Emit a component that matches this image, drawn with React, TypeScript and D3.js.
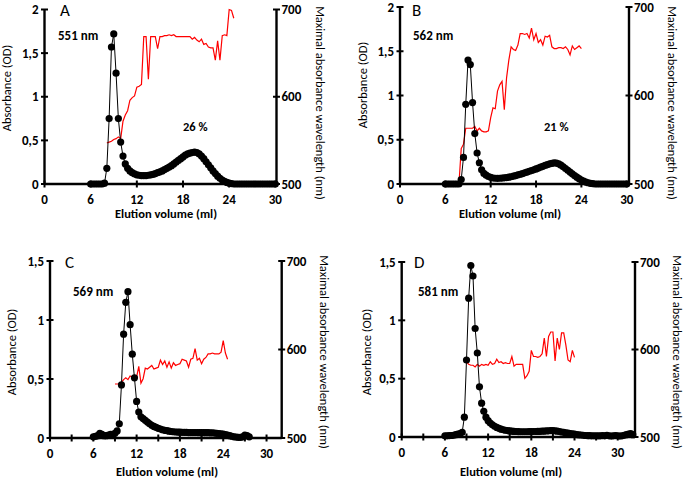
import React from "react";
import * as d3 from "d3";

// ---------- DATA ----------
const FRACTION_ML = 0.3; // volume of one collected fraction

// Absorbance (OD) per fraction, first fraction volume given separately
const absStartA = 6.0;
const absA = [0, 0, 0, 0, 0, 0, 0.01,
  0.18, 0.75, 1.57, 1.72, 1.27, 0.75, 0.48, 0.32, 0.23,
  0.18, 0.15, 0.13, 0.115, 0.105, 0.1, 0.095, 0.095, 0.097, 0.1,
  0.105, 0.11, 0.12, 0.13, 0.14, 0.15, 0.165, 0.18, 0.195, 0.21,
  0.23, 0.25, 0.27, 0.29, 0.31, 0.33, 0.345, 0.355, 0.36, 0.365,
  0.36, 0.345, 0.32, 0.29, 0.255, 0.22, 0.185, 0.15, 0.12, 0.09,
  0.065, 0.045, 0.03, 0.018, 0.01, 0.005,
  0, 0, 0, 0, 0, 0, 0, 0, 0, 0, 0, 0, 0, 0, 0, 0, 0, 0, 0];
const wlStartA = 8.1;
const wlA = [547, 548, 549, 551, 552, 554, 552, 572, 579, 584,
  596, 599, 601, 611, 612, 614, 669, 669, 620, 669,
  669, 669, 655, 669, 669, 670, 670, 671, 670, 671,
  669, 669, 669, 669, 669, 669, 669, 666, 668, 665,
  663, 666, 660, 661, 657, 656, 656, 642, 664, 642,
  670, 671, 670, 700, 699, 690];

const absStartB = 6.0;
const absB = [0, 0, 0, 0, 0, 0, 0,
  0.05, 0.3, 0.9, 1.4, 1.35, 0.92, 0.57, 0.35, 0.24,
  0.16, 0.12, 0.1, 0.085, 0.075, 0.068, 0.065, 0.064, 0.065, 0.067,
  0.07, 0.073, 0.077, 0.082, 0.088, 0.095, 0.102, 0.11, 0.118, 0.126,
  0.135, 0.143, 0.152, 0.16, 0.17, 0.18, 0.19, 0.2, 0.21, 0.22,
  0.228, 0.234, 0.238, 0.236, 0.228, 0.213, 0.195, 0.175, 0.155, 0.135,
  0.115, 0.095, 0.077, 0.06, 0.045, 0.033, 0.022, 0.014, 0.008, 0.004,
  0, 0, 0, 0, 0, 0, 0, 0, 0, 0, 0, 0, 0, 0, 0];
const wlStartB = 7.8;
const wlB = [500, 540, 545, 563, 563, 563, 563, 565, 560, 563,
  560, 559, 559, 560, 575, 586, 585, 605, 612, 616,
  584, 620, 640, 655, 652, 651, 657, 670, 670, 669,
  670, 665, 676, 663, 670, 660, 663, 657, 667, 666,
  668, 655, 653, 653, 654, 654, 653, 655, 652, 646,
  656, 652, 654, 656, 653];

const absStartC = 6.0;
const absC = [0.01, 0.015, 0.02, 0.04, 0.03, 0.02, 0.02, 0.025, 0.03, 0.03,
  0.04, 0.06, 0.12, 0.45, 0.88, 1.15, 1.24, 0.96, 0.71, 0.51,
  0.31, 0.22, 0.18, 0.165, 0.15, 0.135, 0.12, 0.108, 0.098, 0.09,
  0.082, 0.076, 0.07, 0.065, 0.062, 0.058, 0.055, 0.053, 0.051, 0.05,
  0.049, 0.048, 0.047, 0.047, 0.046, 0.046, 0.046, 0.046, 0.046, 0.045,
  0.045, 0.045, 0.045, 0.045, 0.044, 0.043, 0.042, 0.04, 0.038, 0.035,
  0.032, 0.028, 0.024, 0.02, 0.015, 0.01, 0.008, 0.006, 0.006, 0.01,
  0.025, 0.02, 0.01];
const wlStartC = 9.0;
const wlC = [561, 561, 561, 563, 566, 568, 566, 570, 569, 570,
  569, 581, 562, 567, 579, 578, 580, 582, 578, 579,
  580, 588, 583, 587, 580, 586, 579, 585, 582, 583,
  584, 589, 588, 587, 580, 589, 590, 601, 588, 590,
  584, 589, 591, 595, 595, 596, 595, 595, 595, 597,
  610, 596, 589];

const absStartD = 6.0;
const absD = [0.01, 0.01, 0.012, 0.013, 0.015, 0.02, 0.025, 0.03, 0.04, 0.17,
  0.66, 1.19, 1.47, 1.38, 0.93, 0.72, 0.43, 0.29, 0.22, 0.17,
  0.14, 0.12, 0.105, 0.092, 0.082, 0.074, 0.067, 0.062, 0.058, 0.055,
  0.052, 0.05, 0.048, 0.047, 0.046, 0.045, 0.045, 0.045, 0.045, 0.046,
  0.046, 0.047, 0.047, 0.048, 0.049, 0.05, 0.051, 0.052, 0.053, 0.054,
  0.054, 0.053, 0.05, 0.047, 0.043, 0.04, 0.036, 0.033, 0.03, 0.027,
  0.024, 0.021, 0.019, 0.017, 0.015, 0.013, 0.012, 0.011, 0.01, 0.01,
  0.01, 0.009, 0.01, 0.012, 0.01, 0.015, 0.01, 0.008, 0.01, 0.012,
  0.01, 0.008, 0.01, 0.015, 0.02, 0.025, 0.03, 0.02];
const wlStartD = 8.7;
const wlD = [586, 586, 583, 582, 582, 580, 583, 581, 583, 582,
  583, 582, 586, 583, 584, 589, 585, 586, 584, 585,
  584, 584, 592, 581, 583, 583, 583, 583, 567, 570,
  575, 599, 592, 592, 591, 592, 595, 613, 592, 615,
  620, 620, 587, 613, 600, 619, 619, 605, 588, 586,
  599, 591];

const panelLetters = ["A", "B", "C", "D"];
const peakLabels = ["551 nm", "562 nm", "569 nm", "581 nm"];
const percentLabels = ["26 %", "21 %", "", ""];
const xTickLabels = [0, 6, 12, 18, 24, 30];
const yTicksTop = [0, 0.5, 1, 1.5, 2];
const yTicksBottom = [0, 0.5, 1, 1.5];
const wlTicks = [500, 600, 700];
const xTitle = "Elution volume (ml)";
const yTitle = "Absorbance (OD)";
const y2Title = "Maximal absorbance wavelength (nm)";

// ---------- LAYOUT ----------
const layouts = [
  { left: 44.5, right: 276.5, top: 9.5, bottom: 184, xMax: 30.15, minor: 6, yMax: 2, yTicks: yTicksTop,
    letter: [60, 16], peak: [58, 40], pct: [183, 131], xT: [166, 218], yT: [7, 88], y2T: [320, 103] },
  { left: 400, right: 629, top: 7, bottom: 184, xMax: 30.3, minor: 6, yMax: 2, yTicks: yTicksTop,
    letter: [412, 16], peak: [413, 40], pct: [544, 131], xT: [510, 218], yT: [363, 85], y2T: [672, 103] },
  { left: 50, right: 281.7, top: 261, bottom: 438, xMax: 32.1, minor: 3, yMax: 1.5, yTicks: yTicksBottom,
    letter: [65, 268], peak: [73, 296], pct: [0, 0], xT: [167, 476], yT: [12, 352], y2T: [324, 352] },
  { left: 401.7, right: 635, top: 262, bottom: 437, xMax: 32.4, minor: 3, yMax: 1.5, yTicks: yTicksBottom,
    letter: [414, 268], peak: [418, 296], pct: [0, 0], xT: [511, 476], yT: [367, 352], y2T: [677, 352] },
];

const series = [
  { abs: absA, absStart: absStartA, wl: wlA, wlStart: wlStartA },
  { abs: absB, absStart: absStartB, wl: wlB, wlStart: wlStartB },
  { abs: absC, absStart: absStartC, wl: wlC, wlStart: wlStartC },
  { abs: absD, absStart: absStartD, wl: wlD, wlStart: wlStartD },
];

const FONT = "Carlito, Lato, 'Open Sans', sans-serif";
const fmt = (v: number) => String(v).replace(".", ",");

function Panel({ idx }: { idx: number }) {
  const L = layouts[idx];
  const S = series[idx];
  const x = d3.scaleLinear().domain([0, L.xMax]).range([L.left, L.right]);
  const y = d3.scaleLinear().domain([0, L.yMax]).range([L.bottom, L.top]);
  const y2 = d3.scaleLinear().domain([500, 700]).range([L.bottom, L.top]);

  const absPts = S.abs.map((v, i) => [S.absStart + i * FRACTION_ML, v] as [number, number]);
  const wlPts = S.wl.map((v, i) => [S.wlStart + i * FRACTION_ML, v] as [number, number]);
  const absLine = d3.line<[number, number]>().x(d => x(d[0])).y(d => y(d[1]));
  const wlLine = d3.line<[number, number]>().x(d => x(d[0])).y(d => y2(d[1]));

  const minorTicks = d3.range(0, L.xMax + 0.001, L.minor);
  const tl = 3.5;

  return (
    <g fontFamily={FONT}>
      <path d={wlLine(wlPts) || ""} fill="none" stroke="#ff0000" strokeWidth={1.2} />
      <path d={absLine(absPts) || ""} fill="none" stroke="#000" strokeWidth={1} />
      {absPts.map((p, i) => (
        <circle key={i} cx={x(p[0])} cy={y(p[1])} r={3.6} fill="#000" />
      ))}
      <line x1={L.left} x2={L.right} y1={L.bottom} y2={L.bottom} stroke="#000" strokeWidth={2.4} />
      <line x1={L.left} x2={L.left} y1={L.top} y2={L.bottom} stroke="#000" strokeWidth={2.4} />
      <line x1={L.right} x2={L.right} y1={L.top} y2={L.bottom} stroke="#000" strokeWidth={2.4} />
      {minorTicks.map((t, i) => (
        <line key={"xt" + i} x1={x(t)} x2={x(t)} y1={L.bottom - tl} y2={L.bottom + tl} stroke="#000" strokeWidth={2} />
      ))}
      {xTickLabels.map((t, i) => (
        <text key={"xl" + i} x={x(t)} y={L.bottom + 20} textAnchor="middle" fontSize={13} fontWeight="bold">{t}</text>
      ))}
      {L.yTicks.map((t, i) => (
        <g key={"yt" + i}>
          <line x1={L.left - tl} x2={L.left + tl} y1={y(t)} y2={y(t)} stroke="#000" strokeWidth={2} />
          <text x={L.left - 6} y={y(t) + 4.5} textAnchor="end" fontSize={13} fontWeight="bold">{fmt(t)}</text>
        </g>
      ))}
      {wlTicks.map((t, i) => (
        <g key={"wt" + i}>
          <line x1={L.right - tl} x2={L.right + tl} y1={y2(t)} y2={y2(t)} stroke="#000" strokeWidth={2} />
          <text x={L.right + 5} y={y2(t) + 4.5} textAnchor="start" fontSize={13} fontWeight="bold">{t}</text>
        </g>
      ))}
      <text x={L.xT[0]} y={L.xT[1]} textAnchor="middle" fontSize={12.5} fontWeight="bold">{xTitle}</text>
      <text transform={`translate(${L.yT[0]},${L.yT[1]}) rotate(-90)`} textAnchor="middle" dy="0.35em" fontSize={12.5}>{yTitle}</text>
      <text transform={`translate(${L.y2T[0]},${L.y2T[1]}) rotate(90)`} textAnchor="middle" dy="0.35em" fontSize={12.5}>{y2Title}</text>
      <text x={L.letter[0]} y={L.letter[1]} fontSize={17}>{panelLetters[idx]}</text>
      <text x={L.peak[0]} y={L.peak[1]} fontSize={13} fontWeight="bold">{peakLabels[idx]}</text>
      {percentLabels[idx] && (
        <text x={L.pct[0]} y={L.pct[1]} fontSize={12.5} fontWeight="bold">{percentLabels[idx]}</text>
      )}
    </g>
  );
}

export default function App() {
  return (
    <svg width={685} height={480} style={{ position: "absolute", left: 0, top: 0, background: "#fff" }}>
      <rect width={685} height={480} fill="#fff" />
      {[0, 1, 2, 3].map(i => <Panel key={i} idx={i} />)}
    </svg>
  );
}
